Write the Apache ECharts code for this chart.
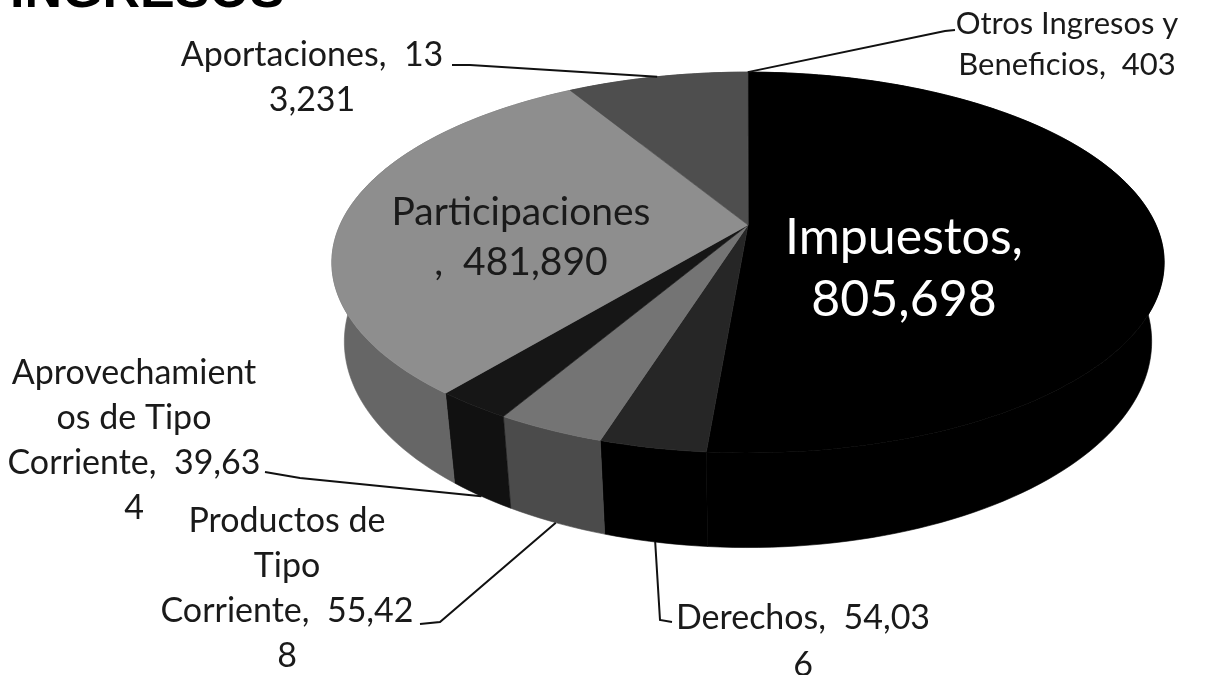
<!DOCTYPE html>
<html>
<head>
<meta charset="utf-8">
<style>html,body{margin:0;padding:0;background:#fff}#c{width:1210px;height:675px}</style>
<script src="https://cdn.jsdelivr.net/npm/echarts@6/dist/echarts.min.js"></script>
</head>
<body>
<div id="c"></div>
<script>
// Data (clockwise from 12 o'clock)
const categories = ['Impuestos','Derechos','Productos de Tipo Corriente','Aprovechamientos de Tipo Corriente','Participaciones','Aportaciones','Otros Ingresos y Beneficios'];
const values = [805698,54036,55428,39634,481890,133231,403];
const labelTexts = ['Impuestos,\n805,698','Derechos,  54,03\n6','Productos de\nTipo\nCorriente,  55,42\n8','Aprovechamient\nos de Tipo\nCorriente,  39,63\n4','Participaciones\n,  481,890','Aportaciones,  13\n3,231','Otros Ingresos y\nBeneficios,  403'];

// Styles and layout
const topColors  = ['#000000','#262626','#747474','#161616','#8e8e8e','#4e4e4e','#4e4e4e'];
const wallColors = ['#000000','#000000','#4b4b4b','#111111','#666666','#3a3a3a','#3a3a3a'];
const labelStyle = [
  {x:904,y:269,size:50,lh:62,fill:'#ffffff'},
  {x:803,y:642,size:34,lh:47,fill:'#1a1a1a'},
  {x:287,y:589,size:34,lh:45,fill:'#1a1a1a'},
  {x:134,y:441,size:34,lh:45,fill:'#1a1a1a'},
  {x:521,y:237,size:39,lh:50,fill:'#1a1a1a'},
  {x:312,y:78,size:34,lh:45,fill:'#1a1a1a'},
  {x:1067,y:44,size:31,lh:41,fill:'#1a1a1a'}
];
// leader: label-side points; the last point is computed from the slice's mid angle
const leaderStarts = [
  null,
  [[672,622],[660,620]],
  [[420,624],[440,622]],
  [[265,472],[300,478]],
  null,
  [[452,65],[470,65]],
  [[955,30],[945,31]]
];
const leaderOnTop = [false,false,false,false,false,true,true];

// Projection of the tilted pie
const cx = 748, cy = 225, A = 408, B = 183, K = 0.197, H = 76, BOTTOM_SCALE = 0.97;
function project(angleDeg, lower) {
  const a = angleDeg * Math.PI / 180;
  const X = Math.sin(a), Y = -Math.cos(a), w = 1 - K * Y;
  return [cx + (lower ? BOTTOM_SCALE : 1) * A * X / w, cy + B * Y / w + (lower ? H / w : 0)];
}
const total = values.reduce((s, v) => s + v, 0);
function sliceAngles(i) {
  let acc = 0;
  for (let j = 0; j < i; j++) acc += values[j];
  return [acc / total * 360, (acc + values[i]) / total * 360];
}
function arc(a0, a1, lower) {
  const n = Math.max(2, Math.ceil((a1 - a0) / 1.5));
  const pts = [];
  for (let k = 0; k <= n; k++) pts.push(project(a0 + (a1 - a0) * k / n, lower));
  return pts;
}
const seriesData = values.map(v => [v]);

function renderWall(p, api) {
  const i = p.dataIndex, [a0, a1] = sliceAngles(i);
  const pts = arc(a0, a1, false).concat(arc(a0, a1, true).reverse());
  return {type:'polygon', shape:{points:pts}, style:{fill:wallColors[i], stroke:wallColors[i], lineWidth:0.6}};
}
function renderTop(p, api) {
  const i = p.dataIndex, [a0, a1] = sliceAngles(i);
  const pts = [[cx, cy]].concat(arc(a0, a1, false));
  return {type:'polygon', shape:{points:pts}, style:{fill:topColors[i], stroke:topColors[i], lineWidth:0.6}};
}
function renderLabel(p, api) {
  const i = p.dataIndex, s = labelStyle[i], children = [];
  if (leaderStarts[i]) {
    const [a0, a1] = sliceAngles(i);
    const end = project((a0 + a1) / 2, !leaderOnTop[i]);
    children.push({type:'polyline', shape:{points:leaderStarts[i].concat([end])}, style:{fill:null, stroke:'#111', lineWidth:2}});
  }
  children.push({type:'text', style:{x:s.x, y:s.y, text:labelTexts[i], fill:s.fill, font:s.size + 'px Lato, sans-serif', lineHeight:s.lh, align:'center', verticalAlign:'middle'}});
  return {type:'group', children};
}

const chart = echarts.init(document.getElementById('c'), null, {renderer:'canvas'});
chart.setOption({
  animation:false,
  backgroundColor:'#ffffff',
  title:{text:'INGRESOS', left:10, top:-33, padding:0, textStyle:{fontFamily:'Liberation Sans', fontWeight:'bold', fontSize:52, color:'#000'}},
  series:[
    {type:'custom', name:'walls', coordinateSystem:'none', silent:true, data:seriesData, renderItem:renderWall, z:1},
    {type:'custom', name:'tops', coordinateSystem:'none', silent:true, data:seriesData, renderItem:renderTop, z:2},
    {type:'custom', name:'labels', coordinateSystem:'none', silent:true, data:seriesData, renderItem:renderLabel, z:3}
  ]
});
</script>
</body>
</html>
